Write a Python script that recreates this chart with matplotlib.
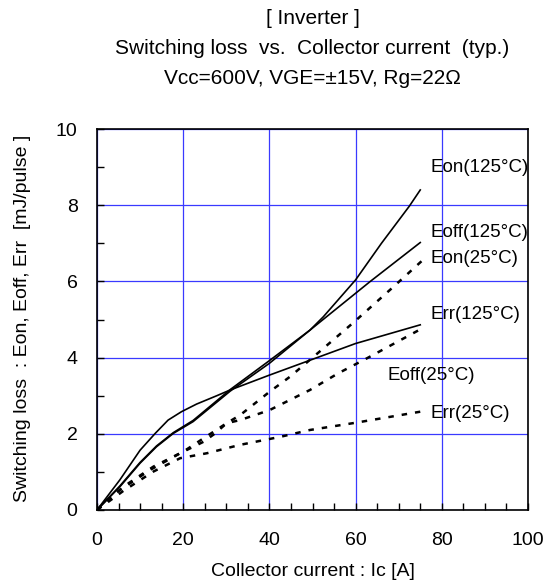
import numpy as np
import matplotlib
matplotlib.use("Agg")
import matplotlib.pyplot as plt

plt.rcParams['font.family'] = ['Liberation Sans', 'DejaVu Sans']

# values (Ic in A, energy in mJ/pulse)
ic_eon125 = [0, 5.3, 10, 13.8, 17.7, 22.3, 30.9, 40, 49.4, 52.5, 60, 66, 72.5, 75]
eon125 = [0, 0.61, 1.23, 1.66, 2.01, 2.32, 3.12, 3.85, 4.72, 5.07, 6.04, 7.0, 7.98, 8.4]

ic_eoff125 = [0, 5.3, 10, 13.8, 17.7, 22.3, 30.9, 40, 49.4, 63.3, 75]
eoff125 = [0, 0.63, 1.25, 1.68, 2.03, 2.35, 3.16, 3.92, 4.72, 5.99, 7.02]

ic_err125 = [0, 5.3, 10, 13.5, 16.5, 19.6, 23.1, 27.8, 30.9, 40, 60, 75]
err125 = [0, 0.79, 1.57, 2.01, 2.36, 2.58, 2.78, 3.0, 3.15, 3.54, 4.37, 4.86]

ic_eon25 = [0, 2.2, 5.3, 12.3, 19.3, 24.7, 27.4, 30.1, 33.2, 40, 44.8, 52.5, 59.5, 68.4, 75.3]
eon25 = [0, 0.26, 0.52, 1.05, 1.49, 1.79, 2.01, 2.28, 2.49, 3.1, 3.5, 4.24, 4.92, 5.82, 6.53]

ic_eoff25 = [0, 2.6, 6.1, 13.1, 20, 24.7, 30.1, 33.2, 40, 49.4, 56, 62.6, 74.5]
eoff25 = [0, 0.26, 0.61, 1.14, 1.53, 1.88, 2.28, 2.36, 2.62, 3.15, 3.59, 3.98, 4.71]

ic_err25 = [0, 6.1, 13.1, 19.3, 25.5, 33.2, 42.5, 49.4, 60, 75]
err25 = [0, 0.5, 1.01, 1.36, 1.49, 1.71, 1.92, 2.1, 2.29, 2.58]

labels = ["Eon(125°C)", "Eoff(125°C)", "Eon(25°C)", "Err(125°C)", "Eoff(25°C)", "Err(25°C)"]
label_x = [77.3, 77.3, 77.3, 77.3, 67.5, 77.3]
label_y = [8.98, 7.28, 6.61, 5.12, 3.52, 2.54]

fig = plt.figure(figsize=(5.56, 5.84), dpi=100)
ax = fig.add_axes([97/556, 1-510/584, 431/556, 381/584])

# solid curves (125 C)
ax.plot(ic_eon125, eon125, color='black', lw=1.2)
ax.plot(ic_eoff125, eoff125, color='black', lw=1.2)
ax.plot(ic_err125, err125, color='black', lw=1.2)

# dotted curves (25 C)
dash = (0, (2.2, 3.2))
ax.plot(ic_eon25, eon25, color='black', lw=1.8, linestyle=dash)
ax.plot(ic_eoff25, eoff25, color='black', lw=1.8, linestyle=dash)
ax.plot(ic_err25, err25, color='black', lw=1.8, linestyle=dash)

for t, x, y in zip(labels, label_x, label_y):
    ax.text(x, y, t, fontsize=13.5, ha='left', va='center')

ax.set_xlim(0, 100)
ax.set_ylim(0, 10)
ax.set_xticks(np.arange(0, 101, 20))
ax.set_yticks(np.arange(0, 11, 2))
ax.set_xticks(np.arange(0, 101, 5), minor=True)
ax.set_yticks(np.arange(0, 11, 1), minor=True)
ax.tick_params(which='both', direction='in', labelsize=14)
ax.tick_params(axis='x', pad=16)
ax.tick_params(axis='y', pad=14)
ax.tick_params(which='major', length=5, width=1)
ax.tick_params(which='minor', length=5, width=1)
ax.grid(True, which='major', color='#3a3aff', lw=0.9)
for s in ax.spines.values():
    s.set_linewidth(1.2)

cx = (97 + 528) / 2 / 556
fig.text(cx, 1-571/584, "Collector current : Ic [A]", fontsize=14, ha='center', va='center')
fig.text(23/556, 1-318/584, "Switching loss  : Eon, Eoff, Err  [mJ/pulse ]", fontsize=14,
         ha='center', va='center', rotation=90)

fig.text(cx, 1-18/584, "[ Inverter ]", fontsize=15, ha='center', va='center')
fig.text(cx, 1-48/584, "Switching loss  vs.  Collector current  (typ.)", fontsize=15, ha='center', va='center')
fig.text(cx, 1-78/584, "Vcc=600V, VGE=±15V, Rg=22Ω", fontsize=15, ha='center', va='center')

fig.savefig("out.png", dpi=100)
